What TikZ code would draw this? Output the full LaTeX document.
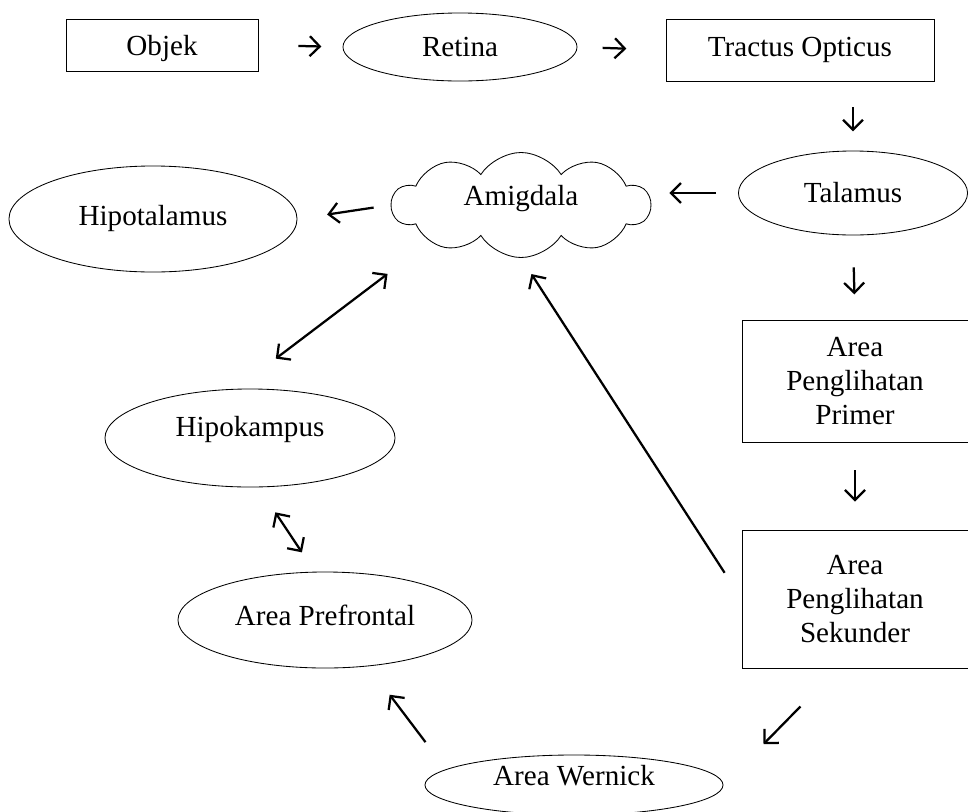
\documentclass[tikz,border=0pt]{standalone}
\usepackage{fontspec}
\setmainfont{Liberation Serif}
\usetikzlibrary{shapes.geometric, shapes.symbols, arrows.meta}

\begin{document}
\begin{tikzpicture}[x=0.025cm, y=-0.025cm]
\tikzset{
    kotak/.style={
        draw=black,
        line width=0.6pt,
        inner sep=0pt,
        align=center,
        font=\fontsize{20.7}{24}\selectfont,
    },
    elips/.style={kotak, ellipse},
    awan/.style={
        kotak, cloud,
        cloud puffs=10,
        cloud puff arc=115,
        aspect=2.5,
        cloud ignores aspect,
    },
    naik/.style={text height=0.5cm, text depth=#1},
    panah/.style={
        line width=1.6pt,
        -{Straight Barb[length=2.5mm, width=5mm]},
    },
    panahdua/.style={
        panah,
        {Straight Barb[length=2.5mm, width=5mm]}-{Straight Barb[length=2.5mm, width=5mm]},
    },
}
    \useasboundingbox (0,0) rectangle (968,811);

    % top row
    \node[kotak, naik=0cm, minimum width=4.8cm, minimum height=1.3cm] (objek) at (162,45) {Objek};
    \node[elips, minimum width=5.85cm, minimum height=1.7cm] (retina) at (460,47) {Retina};
    \node[kotak, minimum width=6.7cm, minimum height=1.55cm] (tractus) at (800,50) {Tractus Opticus};

    % middle
    \node[elips, minimum width=5.725cm, minimum height=2.1cm] (talamus) at (853,193) {Talamus};
    \node[awan, naik=0.5cm, minimum width=6.45cm, minimum height=2.625cm] (amig) at (521,205) {Amigdala};
    \node[elips, naik=0.2cm, minimum width=7.2cm, minimum height=2.65cm] (hipot) at (153,219) {Hipotalamus};
    \node[kotak, minimum width=5.65cm, minimum height=3.05cm] (app) at (855,381) {Area\\Penglihatan\\Primer};
    \node[elips, naik=0.6cm, minimum width=7.25cm, minimum height=2.45cm] (hipok) at (250,438) {Hipokampus};

    % bottom
    \node[kotak, minimum width=5.65cm, minimum height=3.45cm] (aps) at (855,599) {Area\\Penglihatan\\Sekunder};
    \node[elips, naik=0.25cm, minimum width=7.35cm, minimum height=2.4cm] (pref) at (325,620) {Area Prefrontal};
    \node[elips, naik=0.5cm, minimum width=7.45cm, minimum height=1.5cm] (wern) at (574,785) {Area Wernick};

    % arrows
    \draw[panah, shorten <=1cm, shorten >=0.53cm] (objek.east) -- (retina.west);
    \draw[panah, shorten <=0.63cm, shorten >=0.98cm] (retina.east) -- (tractus.west);
    \draw[panah, shorten <=0.65cm, shorten >=0.48cm] (talamus.north |- tractus.south) -- (talamus.north);
    \draw[panah, shorten <=0.55cm, shorten >=0.45cm] (talamus.west) -- (talamus.west -| amig.east);
    \draw[panah, shorten <=0.43cm, shorten >=0.75cm] (amig.west) -- (hipot.east);
    \draw[panahdua, shorten <=1.33cm, shorten >=1.25cm] (amig.202) -- (hipok.106);
    \draw[panah, shorten <=0.8cm, shorten >=0.63cm] (talamus.south) -- (app.north);
    \draw[panah, shorten <=0.7cm, shorten >=0.7cm] (app.south) -- (aps.north);
    \draw[panah, shorten <=0.78cm, shorten >=0.48cm] (aps.west) -- (amig.south);
    \draw[panah, shorten <=1.33cm, shorten >=1.43cm] (aps.256) -- (wern.east);
    \draw[panah, shorten <=0.85cm, shorten >=0.89cm] (wern.173) -- (pref.313);
    \draw[panahdua, shorten <=0.75cm, shorten >=0.58cm] (hipok.280) -- (pref.102);

\end{tikzpicture}
\end{document}
